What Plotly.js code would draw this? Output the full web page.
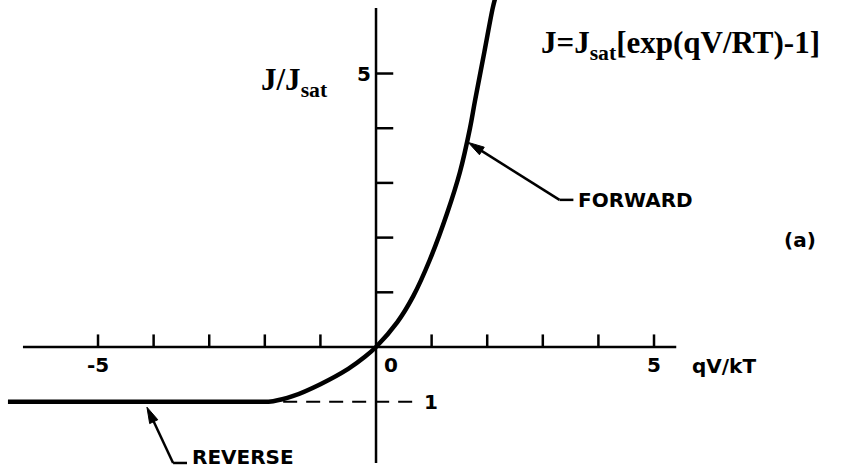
<!DOCTYPE html>
<html><head><meta charset="utf-8">
<script src="https://cdn.plot.ly/plotly-3.0.1.min.js"></script>
<style>html,body{margin:0;padding:0;background:#fff;}#chart{width:852px;height:472px;}</style>
</head><body><div id="chart"></div>
<script>
// J/Jsat versus qV/kT
const curveX = [-6.62, -2.2, -1.85, -1.5, -1.0, -0.5, -0.2, 0, 0.38, 0.67, 0.97, 1.28, 1.51, 1.69, 1.78, 1.95, 2.1, 2.15];
const curveY = [-1.0, -1.0, -0.99, -0.9, -0.68, -0.4, -0.18, 0, 0.45, 0.93, 1.6, 2.45, 3.2, 4.0, 4.5, 5.4, 6.2, 6.4];
const xTickVals = [-5, -4, -3, -2, -1, 1, 2, 3, 4, 5];
const yTickVals = [1, 2, 3, 4, 5];
const xLabelVals = [-5, 5];
const xLabelText = ['-5', '5'];
const yLabelVals = [5];
const yLabelText = ['5'];
const satLevel = -1;
const dashedFrom = -1.67, dashedTo = 0.81;
const xAxisExtent = [-6.35, 5.4];
const yAxisExtent = [-2.12, 6.2];

const XR = [-6.763, 8.561], YR = [-2.285, 6.344];
const W = 852, H = 472;
const pxX = W / (XR[1] - XR[0]), pxY = H / (YR[1] - YR[0]);

const ink = '#000';
const labFont = {family: 'DejaVu Sans', size: 20, color: ink, weight: 'bold'};
const serif = {family: 'Liberation Serif', size: 31, color: ink};

const shapes = [];
const seg = (x0, y0, x1, y1, w, dash) => shapes.push({type:'line', xref:'x', yref:'y', x0, y0, x1, y1, line:{color:ink, width:w, dash:dash || 'solid'}});
seg(xAxisExtent[0], 0, xAxisExtent[1], 0, 2.5);
seg(0, yAxisExtent[0], 0, yAxisExtent[1], 2.5);
xTickVals.forEach(v => seg(v, 0, v, 0.23, 2.5));
yTickVals.forEach(v => seg(0, v, 0.31, v, 2.5));
seg(dashedFrom, satLevel, dashedTo, satLevel, 2, '14px,9px');

// leader with arrowhead: tip, corner, end of horizontal stub
function leader(tip, corner, stubEnd) {
  seg(stubEnd[0], stubEnd[1], corner[0], corner[1], 2.5);
  const dx = (tip[0] - corner[0]) * pxX, dy = (tip[1] - corner[1]) * pxY;
  const L = Math.hypot(dx, dy), ux = dx / L, uy = dy / L;
  const len = 16, hw = 4.5;
  const bx = tip[0] - ux * len / pxX, by = tip[1] - uy * len / pxY;
  seg(corner[0], corner[1], bx + ux * 4 / pxX, by + uy * 4 / pxY, 2.5);
  const p1 = [bx - uy * hw / pxX, by + ux * hw / pxY];
  const p2 = [bx + uy * hw / pxX, by - ux * hw / pxY];
  shapes.push({type:'path', xref:'x', yref:'y', path:`M ${tip[0]} ${tip[1]} L ${p1[0]} ${p1[1]} L ${p2[0]} ${p2[1]} Z`, fillcolor:ink, line:{color:ink, width:1}});
}
const revTip = [-4.12, -1.1], revCorner = [-3.65, -2.12], revStub = [-3.40, -2.12];
const fwdTip = [1.66, 3.74], fwdCorner = [3.30, 2.69], fwdStub = [3.55, 2.69];
leader(revTip, revCorner, revStub);
leader(fwdTip, fwdCorner, fwdStub);

const annotations = [];
const txt = (x, y, text, font, xa, ya, ref) => annotations.push({x, y, xref:ref ? 'paper' : 'x', yref:ref ? 'paper' : 'y', text, showarrow:false, font, xanchor:xa, yanchor:ya});
xLabelVals.forEach((v, i) => txt(v, -0.33, xLabelText[i], labFont, 'center', 'middle'));
txt(0.1, -0.33, '0', labFont, 'left', 'middle');
yLabelVals.forEach((v, i) => txt(-0.05, v, yLabelText[i], labFont, 'right', 'middle'));
txt(0.83, satLevel, '1', labFont, 'left', 'middle');
txt(5.65, -0.35, 'qV/kT', labFont, 'left', 'middle');
txt(-3.35, -2.27, 'REVERSE', labFont, 'left', 'bottom');
txt(3.6, 2.69, 'FORWARD', labFont, 'left', 'middle');
txt(7.63, 1.96, '(a)', labFont, 'center', 'middle');
txt(-1.46, 4.84, '<b>J/J<sub>sat</sub></b>', serif, 'center', 'middle');
txt(0.965, 0.905, '<b>J=J<sub>sat</sub>[exp(qV/RT)-1]</b>', serif, 'right', 'middle', true);

const trace = {x:curveX, y:curveY, type:'scatter', mode:'lines', line:{color:ink, width:4.5, shape:'spline', smoothing:1}, hoverinfo:'skip'};

const layout = {
  width:W, height:H, margin:{l:0, r:0, t:0, b:0},
  paper_bgcolor:'#fff', plot_bgcolor:'#fff', showlegend:false,
  xaxis:{range:XR, visible:false, fixedrange:true},
  yaxis:{range:YR, visible:false, fixedrange:true},
  shapes:shapes, annotations:annotations
};
Plotly.newPlot('chart', [trace], layout, {staticPlot:true, displayModeBar:false});
</script></body></html>
